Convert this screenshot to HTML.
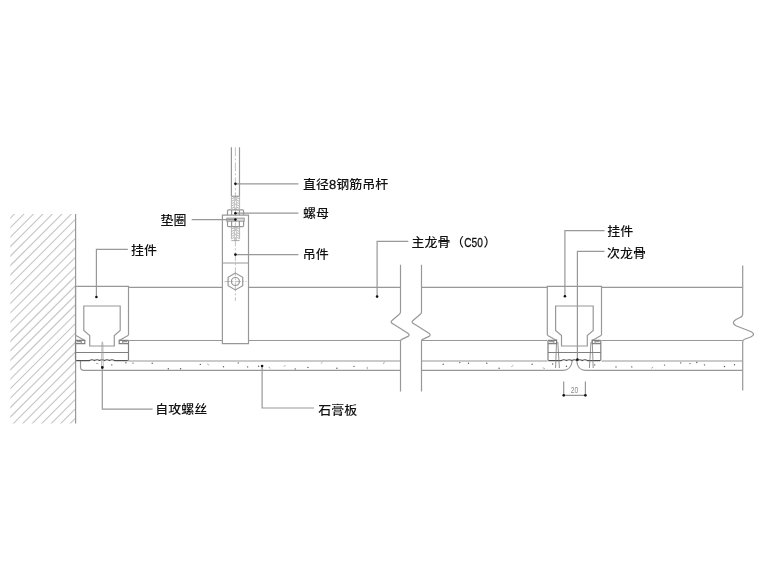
<!DOCTYPE html>
<html lang="zh-CN"><head><meta charset="utf-8"><title>吊顶节点</title>
<style>
html,body{margin:0;padding:0;background:#fff;}
body{width:760px;height:570px;overflow:hidden;}
svg{display:block;will-change:transform;}
.l{fill:none;stroke:#989898;stroke-width:1.2;}
.d{fill:none;stroke:#505050;stroke-width:1.2;}
.t{fill:none;stroke:#8c8c8c;stroke-width:.7;}
.h{fill:none;stroke:#c6c6c6;stroke-width:1.1;}
.c{fill:none;stroke:#999;stroke-width:.6;stroke-dasharray:9 2 2 2;}
.dot{fill:#111;stroke:none;}
text{font-family:"Liberation Sans","Noto Sans CJK SC",sans-serif;font-size:13px;font-weight:500;fill:#111;}
.n{stroke:#111;stroke-width:.3;}
.dim{font-size:9px;fill:#888;}
</style></head><body>
<svg width="760" height="570" viewBox="0 0 760 570">
<defs><clipPath id="wallclip"><rect x="10.3" y="214" width="65.2" height="209.4"/></clipPath></defs>

<g class="h" clip-path="url(#wallclip)">
<path d="M5 157.2L80 82.2"/>
<path d="M5 166.7L80 91.7"/>
<path d="M5 176.2L80 101.2"/>
<path d="M5 185.7L80 110.7"/>
<path d="M5 195.1L80 120.1"/>
<path d="M5 204.6L80 129.6"/>
<path d="M5 214.1L80 139.1"/>
<path d="M5 223.5L80 148.5"/>
<path d="M5 233.0L80 158.0"/>
<path d="M5 242.5L80 167.5"/>
<path d="M5 251.9L80 176.9"/>
<path d="M5 261.4L80 186.4"/>
<path d="M5 270.9L80 195.9"/>
<path d="M5 280.4L80 205.4"/>
<path d="M5 289.8L80 214.8"/>
<path d="M5 299.3L80 224.3"/>
<path d="M5 308.8L80 233.8"/>
<path d="M5 318.2L80 243.2"/>
<path d="M5 327.7L80 252.7"/>
<path d="M5 337.2L80 262.2"/>
<path d="M5 346.6L80 271.6"/>
<path d="M5 356.1L80 281.1"/>
<path d="M5 365.6L80 290.6"/>
<path d="M5 375.1L80 300.1"/>
<path d="M5 384.5L80 309.5"/>
<path d="M5 394.0L80 319.0"/>
<path d="M5 403.5L80 328.5"/>
<path d="M5 412.9L80 337.9"/>
<path d="M5 422.4L80 347.4"/>
<path d="M5 431.9L80 356.9"/>
<path d="M5 441.3L80 366.3"/>
<path d="M5 450.8L80 375.8"/>
<path d="M5 460.3L80 385.3"/>
<path d="M5 469.8L80 394.8"/>
<path d="M5 479.2L80 404.2"/>
<path d="M5 488.7L80 413.7"/>
<path d="M5 498.2L80 423.2"/>
<path d="M5 507.6L80 432.6"/>
</g>
<path class="l" d="M75.6 214V423.4"/>
<g class="l">
<path d="M128.5 287.3H222.4M248.5 287.3H400.5M421.5 287.3H547.3M601.5 287.3H742.7"/>
<path d="M128.5 340.5H222.4M248.5 340.5H400.5M421.5 340.5H547.3M601.5 340.5H742.7"/>
<path d="M128.5 361H400.5M421.5 361H547.5M601.5 361H742.7"/>
<path d="M80.5 361V367Q80.6 370.3 84 370.3H400.5M421.5 370.3H563Q571 370.3 572.2 361M742.7 370.3H585.5Q577.5 370.3 576.8 361"/>
</g>
<path class="l" d="M75.5 335V286.4H128.5V335"/><path class="l" d="M75.5 335.2L84.8 340.4M128.5 335.2L119.2 340.4"/><path class="l" d="M83.8 306H120.2V330.5L114.3 335.5V346H89.7V335.5L83.8 330.5Z"/>
<path class="l" style="stroke:#808080" d="M75.5 340.4V359.5Q75.5 360.6 76.6 360.6M128.5 340.4V359.5Q128.5 360.6 127.4 360.6M75.5 343.6H84.8V340.4H75.5M128.5 343.6H119.2V340.4H128.5M75.5 352.5H128.5"/><path class="l" d="M76.7 341.7H81.3V343.5M127.3 341.7H122.7V343.5"/><path class="d" d="M76.3 360.6H89.5Q92.0 358.9 94.5 360.6Q97.0 358.9 99.5 360.6Q102.0 358.9 104.5 360.6Q107.0 358.9 109.5 360.6Q112.0 358.9 114.5 360.6H127.7"/>
<path class="l" d="M547.3 335V286.4H601.5V335"/><path class="l" d="M547.3 335.2L556.5999999999999 340.4M601.5 335.2L592.2 340.4"/><path class="l" d="M555.5999999999999 306H593.2V330.5L587.3 335.5V346H561.5V335.5L555.5999999999999 330.5Z"/>
<path class="l" style="stroke:#808080" d="M548.0 340.4V359.5Q548.0 360.6 549.1 360.6M600.8 340.4V359.5Q600.8 360.6 599.6999999999999 360.6M548.0 343.6H556.5999999999999V340.4H548.0M600.8 343.6H592.2V340.4H600.8M548.0 352.5H600.8"/><path class="l" d="M549.2 341.7H553.8V343.5M599.5999999999999 341.7H595.0V343.5"/><path class="d" d="M548.8 360.6H561.3Q563.9 358.9 566.5 360.6Q569.2 358.9 571.8 360.6Q574.4 358.9 577.0 360.6Q579.6 358.9 582.3 360.6Q584.9 358.9 587.5 360.6H600.0"/>
<path class="t" style="stroke:#999" d="M101.5 368.5L102 343L102.4 341.8L102.8 343L103.3 368.5"/>
<path class="t" style="stroke:#777;stroke-width:.8" d="M556.6 339.6L555.6 368M557.8 342L559.4 368M592.2 339.6L593.2 368M591 342L589.4 368"/>
<g class="l">
<path d="M231.4 147.3V196.3M239.5 147.3V196.3"/>
<path d="M231.4 196.3H239.6"/>
</g>
<path style="fill:none;stroke:#a4a4a4;stroke-width:.8" d="M231.4 199.0L234.4 197.4M231.4 196.6V199.0M239.6 199.0L236.6 197.4M239.6 196.6V199.0M231.4 201.4L234.4 199.8M231.4 199.0V201.4M239.6 201.4L236.6 199.8M239.6 199.0V201.4M231.4 203.8L234.4 202.2M231.4 201.4V203.8M239.6 203.8L236.6 202.2M239.6 201.4V203.8M231.4 206.2L234.4 204.6M231.4 203.8V206.2M239.6 206.2L236.6 204.6M239.6 203.8V206.2M231.4 208.6L234.4 207.0M231.4 206.2V208.6M239.6 208.6L236.6 207.0M239.6 206.2V208.6M231.4 229.2L234.4 227.6M231.4 226.8V229.2M239.6 229.2L236.6 227.6M239.6 226.8V229.2M231.4 231.6L234.4 230.0M231.4 229.2V231.6M239.6 231.6L236.6 230.0M239.6 229.2V231.6M231.4 234.0L234.4 232.4M231.4 231.6V234.0M239.6 234.0L236.6 232.4M239.6 231.6V234.0M231.4 236.4L234.4 234.8M231.4 234.0V236.4M239.6 236.4L236.6 234.8M239.6 234.0V236.4M231.4 238.8L234.4 237.2M231.4 236.4V238.8M239.6 238.8L236.6 237.2M239.6 236.4V238.8"/>
<path style="fill:none;stroke:#b0b0b0;stroke-width:.7" d="M234.4 196.3V209.8M236.6 196.3V209.8M234.4 226.6V240.6M236.6 226.6V240.6"/>
<path class="t" d="M231.4 240.6H239.6"/>
<path class="c" d="M235.4 147.3V301"/>
<path class="l" d="M227.5 215V211Q227.5 209.9 228.6 209.9H242.5Q243.6 209.9 243.6 211V215M231.6 209.9V215M239.4 209.9V215"/>
<path class="l" d="M227.5 221V225.5Q227.5 226.6 228.6 226.6H242.5Q243.6 226.6 243.6 225.5V221M231.6 221V226.6M239.4 221V226.6"/>
<rect x="226.8" y="218.1" width="17.4" height="3.1" fill="#dcdcdc" stroke="#848484" stroke-width=".8"/>
<path class="l" d="M222.4 215.1H248.5V343.6H222.4ZM222.4 263H248.5"/>
<polygon class="l" points="235.4,273.1 228.1,277.3 228.1,285.7 235.4,289.9 242.7,285.7 242.7,277.3"/>
<circle class="l" cx="235.4" cy="281.5" r="4"/>
<path class="c" style="stroke-dasharray:6 1.5 1.5 1.5" d="M224.5 281.5H246.5"/>
<path class="l" d="M400.5 264.8V312Q400.5 313.5 399.0 314.5L392.0 320.5Q390.0 322.3 392.5 323.6L407.5 333Q410.5 334.8 408.0 336.4L401.7 339.4Q400.5 340 400.5 341.5V391.4"/>
<path class="l" d="M421.5 264.8V312Q421.5 313.5 420.0 314.5L413.0 320.5Q411.0 322.3 413.5 323.6L428.5 333Q431.5 334.8 429.0 336.4L422.7 339.4Q421.5 340 421.5 341.5V391.4"/>
<path class="l" d="M742.7 265.4V314Q742.7 316.5 740 317.5L736 319.5Q730.5 323 736.5 326L750 331.3Q757 334.3 750 337.2L744.5 339.3Q742.7 340 742.7 342V390.4"/>
<g class="l">
<path d="M96.4 297V249.4H127.8"/>
<path d="M235.5 183.8H298.4M235.5 213.2H298.4M235.5 219.6H191.7M235.5 254.6H298.4"/>
<path d="M377.1 296.6V241.3H408.3"/>
<path d="M564.9 296.3V230.7H604.5M577.4 359.6V251.3H604.5"/>
<path d="M102.3 367.4V409.2H152.6M262.1 366V408H314"/>
<path d="M563.7 381.6V396.7M585.4 381.6V396.7M563.7 395.3H585.4"/>
</g>
<circle class="dot" cx="96.4" cy="297" r="1.3"/>
<circle class="dot" cx="235.4" cy="183.8" r="1.3"/>
<circle class="dot" cx="235.4" cy="213.2" r="1.3"/>
<circle class="dot" cx="235.4" cy="219.6" r="1.3"/>
<circle class="dot" cx="235.4" cy="254.6" r="1.3"/>
<circle class="dot" cx="377.1" cy="296.6" r="1.3"/>
<circle class="dot" cx="564.9" cy="296.3" r="1.3"/>
<circle class="dot" cx="577.4" cy="359.6" r="1.3"/>
<circle class="dot" cx="102.3" cy="367.4" r="1.3"/>
<circle class="dot" cx="262.1" cy="366" r="1.3"/>
<circle class="dot" cx="563.7" cy="395.3" r="1.3"/>
<circle class="dot" cx="585.4" cy="395.3" r="1.3"/>
<path d="M96.0 363.2L98.4 363.8" stroke="#888" stroke-width=".7"/><circle cx="111.8" cy="364.9" r=".7" fill="#5a5a5a"/><circle cx="125.9" cy="362.7" r=".7" fill="#5a5a5a"/><circle cx="133.0" cy="363.1" r=".7" fill="#5a5a5a"/><circle cx="152.2" cy="363.3" r=".7" fill="#5a5a5a"/><circle cx="168.3" cy="368.7" r=".7" fill="#5a5a5a"/><circle cx="180.6" cy="368.8" r=".7" fill="#5a5a5a"/><circle cx="200.3" cy="364.4" r=".7" fill="#5a5a5a"/><path d="M207.2 363.9L209.2 365.2" stroke="#888" stroke-width=".7"/><circle cx="223.5" cy="366.7" r=".7" fill="#5a5a5a"/><circle cx="238.3" cy="362.9" r=".7" fill="#5a5a5a"/><circle cx="247.6" cy="366.9" r=".7" fill="#5a5a5a"/><circle cx="258.6" cy="366.3" r=".7" fill="#5a5a5a"/><path d="M268.6 366.8L270.3 368.5" stroke="#888" stroke-width=".7"/><path d="M285.4 365.0L283.8 366.8" stroke="#888" stroke-width=".7"/><circle cx="295.2" cy="368.9" r=".7" fill="#5a5a5a"/><circle cx="307.9" cy="367.4" r=".7" fill="#5a5a5a"/><path d="M322.6 361.9L320.8 363.6" stroke="#888" stroke-width=".7"/><circle cx="336.9" cy="368.2" r=".7" fill="#5a5a5a"/><circle cx="354.0" cy="366.4" r=".7" fill="#5a5a5a"/><path d="M367.2 366.8L367.4 369.2" stroke="#888" stroke-width=".7"/><path d="M384.5 361.8L383.4 364.0" stroke="#888" stroke-width=".7"/><circle cx="443.2" cy="364.3" r=".7" fill="#5a5a5a"/><circle cx="459.8" cy="362.6" r=".7" fill="#5a5a5a"/><circle cx="468.5" cy="363.3" r=".7" fill="#5a5a5a"/><circle cx="486.8" cy="363.3" r=".7" fill="#5a5a5a"/><circle cx="499.1" cy="368.2" r=".7" fill="#5a5a5a"/><path d="M513.3 365.4L511.3 366.7" stroke="#888" stroke-width=".7"/><circle cx="532.1" cy="364.3" r=".7" fill="#5a5a5a"/><path d="M542.8 367.7L544.9 368.8" stroke="#888" stroke-width=".7"/><circle cx="552.7" cy="364.0" r=".7" fill="#5a5a5a"/><circle cx="566.4" cy="366.3" r=".7" fill="#5a5a5a"/><circle cx="594.7" cy="364.9" r=".7" fill="#5a5a5a"/><circle cx="616.0" cy="367.0" r=".7" fill="#5a5a5a"/><circle cx="631.8" cy="366.9" r=".7" fill="#5a5a5a"/><path d="M653.2 366.9L651.3 368.3" stroke="#888" stroke-width=".7"/><circle cx="664.5" cy="365.1" r=".7" fill="#5a5a5a"/><circle cx="680.7" cy="362.9" r=".7" fill="#5a5a5a"/><circle cx="690.0" cy="363.6" r=".7" fill="#5a5a5a"/><circle cx="696.8" cy="362.5" r=".7" fill="#5a5a5a"/><circle cx="704.5" cy="364.9" r=".7" fill="#5a5a5a"/><circle cx="724.4" cy="366.5" r=".7" fill="#5a5a5a"/><circle cx="734.5" cy="364.8" r=".7" fill="#5a5a5a"/>
<text transform="translate(131.0 255.1) scale(1 .94)">挂件</text>
<text transform="translate(160.6 225.1) scale(1 .94)">垫圈</text>
<text transform="translate(303.0 188.7) scale(1 .94)">直径<tspan class="n">8</tspan>钢筋吊杆</text>
<text transform="translate(303.0 218.0) scale(1 .94)">螺母</text>
<text transform="translate(302.8 259.4) scale(1 .94)">吊件</text>
<text transform="translate(411.4 247.3) scale(1 .94)">主龙骨<tspan x="39.6">（</tspan><tspan x="52.8" textLength="18.6" lengthAdjust="spacingAndGlyphs" class="n">C50</tspan><tspan x="72.1">）</tspan></text>
<text transform="translate(607.2 236.0) scale(1 .94)">挂件</text>
<text transform="translate(607 257.5) scale(1 .94)">次龙骨</text>
<text transform="translate(155.3 413.8) scale(1 .94)">自攻螺丝</text>
<text transform="translate(318.3 415.4) scale(1 .94)">石膏板</text>
<text x="574.5" y="393.2" class="dim" text-anchor="middle" textLength="7.4" lengthAdjust="spacingAndGlyphs">20</text>
</svg></body></html>
